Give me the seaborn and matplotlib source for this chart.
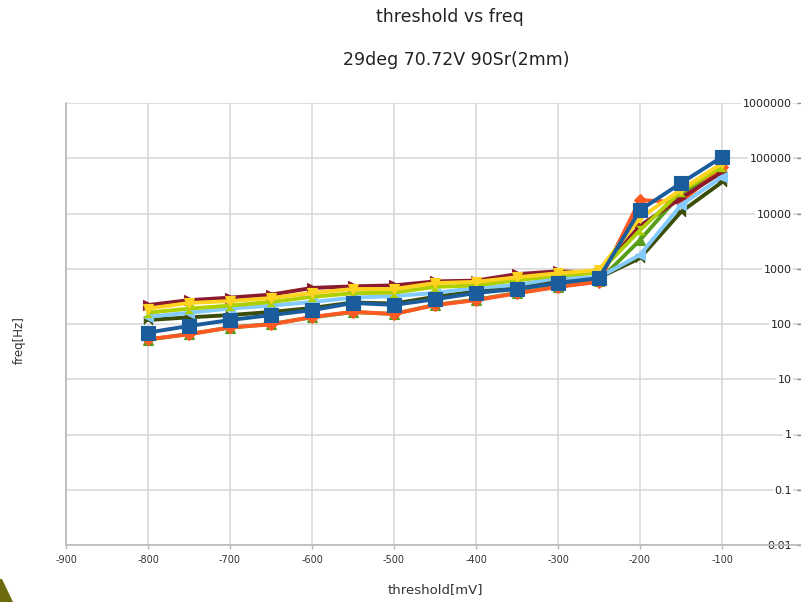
import numpy as np
import pandas as pd
import matplotlib
matplotlib.use("Agg")
import matplotlib.pyplot as plt
from matplotlib.patches import Polygon
from matplotlib.ticker import FixedLocator, NullLocator
import seaborn as sns

# ---------------- data ----------------
thresholds = [-800, -750, -700, -650, -600, -550, -500, -450, -400, -350, -300, -250, -200, -150, -100]

series_names = ["s1", "s2", "s3", "s4", "s5", "s6", "s7", "s8"]
s1_blue = [70, 92, 118, 145, 178, 240, 222, 280, 365, 430, 550, 680, 11500, 35500, 105000]
s2_orange = [53, 65, 87, 98, 134, 166, 152, 220, 270, 360, 470, 580, 17500, 16000, 69000]
s3_yellow = [190, 240, 260, 295, 365, 430, 430, 550, 580, 700, 830, 950, 8300, 27000, 81000]
s4_green = [52, 66, 86, 100, 132, 164, 152, 222, 275, 365, 475, 610, 3300, 23000, 66000]
s5_maroon = [220, 270, 300, 340, 450, 480, 500, 590, 610, 800, 900, 850, 6000, 19000, 56000]
s6_lightblue = [135, 160, 190, 215, 250, 300, 320, 365, 450, 510, 680, 700, 1780, 14200, 46000]
s7_olive = [118, 132, 145, 165, 195, 245, 235, 310, 390, 460, 600, 690, 1560, 10700, 37000]
s8_yellowgreen = [160, 190, 215, 250, 310, 360, 370, 470, 500, 620, 750, 850, 5000, 25000, 70000]

y_ticks = [0.01, 0.1, 1, 10, 100, 1000, 10000, 100000, 1000000]
y_tick_labels = ["0.01", "0.1", "1", "10", "100", "1000", "10000", "100000", "1000000"]
x_ticks = [-900, -800, -700, -600, -500, -400, -300, -200, -100]
x_tick_labels = ["-900", "-800", "-700", "-600", "-500", "-400", "-300", "-200", "-100"]

title = "threshold vs freq"
subtitle = "29deg 70.72V 90Sr(2mm)"
x_label = "threshold[mV]"
y_label = "freq[Hz]"

values = [s1_blue, s2_orange, s3_yellow, s4_green, s5_maroon, s6_lightblue, s7_olive, s8_yellowgreen]
df = pd.DataFrame({
    "threshold": np.tile(thresholds, len(series_names)),
    "freq": np.concatenate(values),
    "series": np.repeat(series_names, len(thresholds)),
})

# ---------------- styles ----------------
colors = {"s1": "#1a5c9c", "s2": "#ff5a24", "s3": "#ffd320", "s4": "#579d1c",
          "s5": "#8b1a2e", "s6": "#83caff", "s7": "#3a4d08", "s8": "#aecf00"}
bowtie = [(-1, -1), (-1, 1), (1, -1), (1, 1)]
hourglass = [(-1, 1), (1, 1), (-1, -1), (1, -1)]
markers = {"s1": "s", "s2": "D", "s3": "v", "s4": "^", "s5": ">", "s6": "<",
           "s7": bowtie, "s8": hourglass}
msizes = {"s1": 9.5, "s2": 6.5, "s3": 7.5, "s4": 7, "s5": 7, "s6": 7, "s7": 6, "s8": 6}
draw_order = ["s4", "s2", "s5", "s7", "s6", "s8", "s3", "s1"]

sns.set_theme(style="white")
plt.rcParams["font.family"] = ["DejaVu Sans"]
plt.rcParams["axes.unicode_minus"] = False

fig = plt.figure(figsize=(8.01, 6.02), dpi=100)
W, H = 801, 602
ax = fig.add_axes([66 / W, (H - 545) / H, (804 - 66) / W, (545 - 103) / H])

for z, name in enumerate(draw_order):
    sub = df[df["series"] == name]
    sns.lineplot(data=sub, x="threshold", y="freq", ax=ax, color=colors[name],
                 marker=markers[name], markersize=msizes[name],
                 markeredgecolor=colors[name], markeredgewidth=0.8,
                 linewidth=2.8, legend=False, zorder=3 + z, errorbar=None)

ax.set_yscale("log")
ax.set_xlim(-900, 0)
ax.set_ylim(0.01, 1000000)

ax.xaxis.set_major_locator(FixedLocator(x_ticks))
ax.set_xticklabels(x_tick_labels)
ax.yaxis.set_major_locator(FixedLocator(y_ticks))
ax.yaxis.set_minor_locator(NullLocator())
ax.set_yticklabels(y_tick_labels)

ax.grid(True, color="#d6d6d6", linewidth=1.1)
ax.set_axisbelow(True)
for s in ["top", "right"]:
    ax.spines[s].set_visible(False)
for s in ["left", "bottom"]:
    ax.spines[s].set_color("#b8b8b8")
    ax.spines[s].set_linewidth(1.2)

ax.tick_params(axis="x", which="major", direction="out", length=3, width=1,
               color="#b8b8b8", pad=4.5, labelsize=7, labelcolor="#333333", bottom=True)
ax.yaxis.tick_right()
ax.tick_params(axis="y", which="major", direction="in", length=5, width=1,
               color="#888888", pad=-9, labelsize=8, labelcolor="#222222")
for lbl in ax.get_yticklabels():
    lbl.set_horizontalalignment("right")
    lbl.set_bbox(dict(facecolor="white", edgecolor="none", pad=1.0))

ax.set_xlabel(x_label, fontsize=9.5, color="#333333", labelpad=13)
ax.yaxis.set_label_position("left")
ax.set_ylabel(y_label, fontsize=8.5, color="#333333")
ax.yaxis.set_label_coords(-0.055, 0.464)

fig.text(450 / W, 1 - 17 / H, title, ha="center", va="center", fontsize=12.5, color="#222222")
fig.text(456 / W, 1 - 60 / H, subtitle, ha="center", va="center", fontsize=12.5, color="#222222")

# decorative corner shape from the slide
corner = Polygon(np.array([(0, H - 579), (2, H - 579), (13, 0), (0, 0)]) / 100.0,
                 closed=True, facecolor="#6b6a0c", edgecolor="none")
corner.set_transform(fig.dpi_scale_trans)
fig.patches.append(corner)

fig.savefig("out.png", dpi=100, facecolor="white")
